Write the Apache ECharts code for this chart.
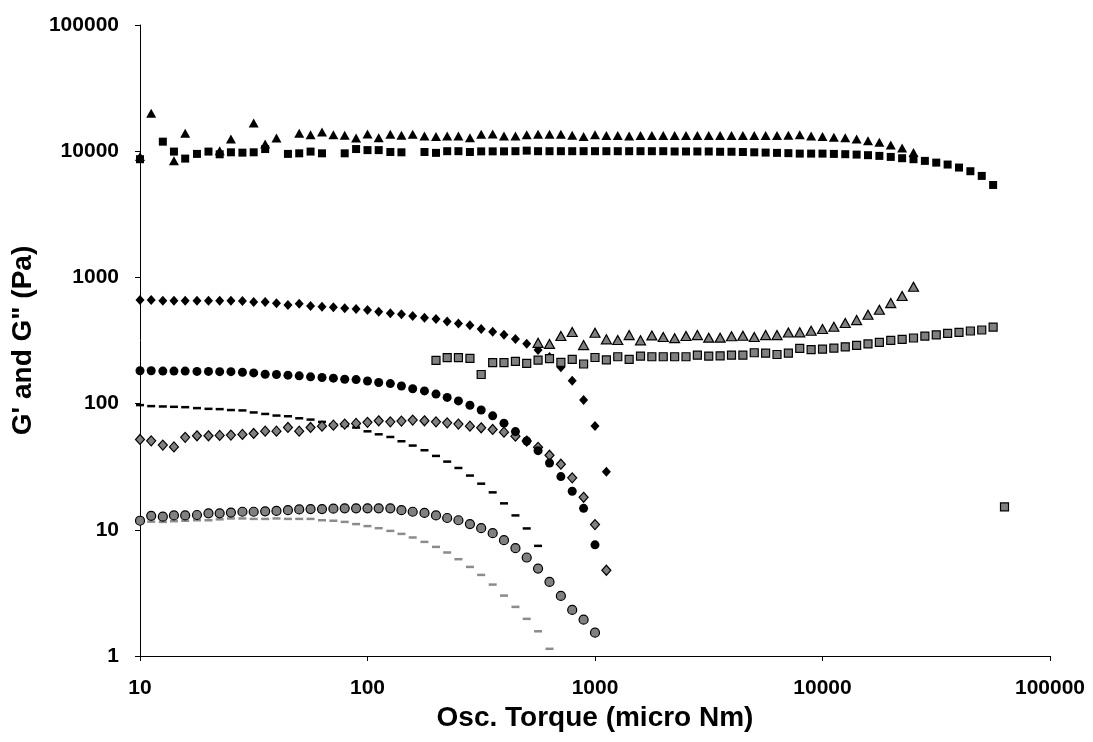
<!DOCTYPE html>
<html>
<head>
<meta charset="utf-8">
<script src="https://cdn.jsdelivr.net/npm/echarts@6/dist/echarts.min.js"></script>
<style>
html,body{margin:0;padding:0;background:#fff;}
#c{width:1093px;height:742px;}
</style>
</head>
<body>
<div id="c"></div>
<script>
// Oscillation torque sweep (micro Nm)
var torque = [10, 11.2, 12.6, 14.1, 15.8, 17.8, 20.0, 22.4, 25.1, 28.2, 31.6, 35.5, 39.8, 44.7, 50.1, 56.2, 63.1, 70.8, 79.4, 89.1,
  100, 112, 126, 141, 158, 178, 200, 224, 251, 282, 316, 355, 398, 447, 501, 562, 631, 708, 794, 891,
  1000, 1122, 1259, 1413, 1585, 1778, 1995, 2239, 2512, 2818, 3162, 3548, 3981, 4467, 5012, 5623, 6310, 7079, 7943, 8913,
  10000, 11220, 12589, 14125, 15849, 17783, 19953, 22387, 25119, 28184, 31623, 35481, 39811, 44668, 50119, 56234, 63096];

var xTicks = [10, 100, 1000, 10000, 100000];
var yTicks = [1, 10, 100, 1000, 10000, 100000];

var blackTriangles = [9060, 20000, null, 8420, 13900, null, null, 10100, 12500, null,
  16700, 11400, 12700, null, 13900, 13500, 14200, 13500, 13400, 12700,
  13700, 12800, 13600, 13400, 13600, 13200, 13100, 13200, 13200, 12800,
  13600, 13700, 13200, 13200, 13500, 13600, 13600, 13600, 13400, 13100,
  13500, 13300, 13300, 13200, 13300, 13300, 13300, 13300, 13300, 13300,
  13300, 13300, 13300, 13300, 13300, 13300, 13300, 13400, 13500, 13200,
  13100, 12900, 12800, 12500, 12100, 11800, 11200, 10600, 9750];

var blackSquares = [8640, null, 11900, 9930, 8740, 9520, 9930, 9450, 9800, 9740,
  9800, 10400, null, 9520, 9620, 9930, 9620, null, 9620, 10400,
  10200, 10200, 9860, 9800, null, 9860, 9700, 10000, 10000, 9860,
  9970, 9970, 9970, 10000, 10100, 10000, 10000, 10000, 10000, 10000,
  10000, 10000, 10000, 10000, 10000, 10000, 10000, 9950, 9950, 9950,
  9950, 9900, 9900, 9850, 9800, 9750, 9700, 9650, 9570, 9570,
  9570, 9520, 9470, 9400, 9300, 9180, 9010, 8800, 8640, 8380,
  8120, 7840, 7420, 6940, 6370, 5400];

var blackDiamonds = [662, 662, 653, 653, 653, 653, 653, 653, 653, 650,
  638, 638, 623, 604, 619, 593, 586, 579, 569, 562,
  551, 535, 519, 510, 494, 479, 468, 448, 432, 417,
  390, 371, 352, 325, 298, 266, 234, 194, 152, 107,
  66.4, 28.8];

var blackCircles = [182, 182, 181, 181, 181, 180, 180, 179, 179, 177,
  175, 171, 170, 168, 166, 163, 161, 159, 156, 155,
  151, 147, 144, 138, 131, 126, 119, 112, 105, 97,
  89, 80, 70, 60, 50.5, 42.4, 33.8, 26.4, 20.2, 14.8,
  7.6];

var blackDashes = [97.3, 95.5, 94.9, 94.3, 93.7, 92.1, 90.9, 90.4, 88.9, 88.3,
  85.1, 82.8, 80.4, 79.4, 76.5, 74.7, 71.6, 68.6, 66.5, 64.6,
  60.3, 57.1, 54.4, 50.3, 46.5, 42.7, 38.5, 34.7, 30.9, 26.9,
  23.2, 19.8, 16.2, 13.0, 10.25, 7.46];

var grayDiamonds = [52.0, 50.7, 46.9, 45.4, 54.0, 55.6, 55.6, 56.0, 56.3, 57.0,
  58.0, 60.5, 60.5, 64.7, 60.5, 64.7, 66.3, 67.5, 68.8, 69.7,
  71.0, 73.1, 71.7, 72.7, 74.0, 73.1, 71.7, 70.4, 68.8, 66.3,
  64.3, 62.4, 59.4, 55.2, 50.5, 45.0, 39.0, 33.1, 25.8, 18.1,
  11.0, 4.78];

var grayCircles = [11.8, 12.9, 12.7, 13.0, 13.0, 13.1, 13.5, 13.5, 13.7, 13.9,
  13.9, 14.0, 14.1, 14.3, 14.5, 14.6, 14.6, 14.7, 14.8, 14.8,
  14.8, 14.8, 14.8, 14.3, 13.9, 13.6, 13.0, 12.4, 11.9, 11.1,
  10.3, 9.4, 8.27, 7.15, 6.03, 4.93, 3.86, 2.99, 2.32, 1.94,
  1.53];

var grayDashes = [11.55, 11.6, 11.55, 11.7, 11.8, 11.9, 11.9, 12.1, 12.3, 12.3,
  12.2, 12.2, 12.3, 12.2, 12.2, 12.2, 11.9, 11.8, 11.55, 11.1,
  10.7, 10.3, 9.8, 9.28, 8.69, 8.02, 7.32, 6.61, 5.85, 5.08,
  4.39, 3.68, 3.01, 2.45, 1.97, 1.57, 1.14];

// gray triangles start at torque index 35
var grayTriangleStart = 35;
var grayTriangles = [303, 297, 343, 369, 291, 364, 323, 319, 349, 317,
  347, 337, 330, 343, 349, 333, 333, 342, 345, 337,
  349, 349, 366, 367, 378, 390, 406, 435, 459, 506,
  554, 626, 712, 844];

// gray squares start at torque index 26 (last point is the outlier at index 76)
var graySquareStart = 26;
var graySquares = [220, 231, 231, 228, 170, 211, 211, 216, 208, 221,
  227, 212, 224, 206, 232, 222, 235, 224, 238, 235,
  235, 235, 235, 242, 238, 239, 242, 242, 253, 251,
  245, 251, 274, 268, 270, 275, 282, 289, 297, 306,
  317, 323, 331, 343, 351, 360, 367, 376, 383, 404,
  15.2];

function pairs(vals, start) {
  var out = [];
  for (var i = 0; i < vals.length; i++) {
    if (vals[i] !== null) out.push([torque[start + i], vals[i]]);
  }
  return out;
}

var GRAY = '#808080';
function sc(name, data, symbol, size, color, border, z) {
  return {
    name: name, type: 'scatter', data: data, symbol: symbol, symbolSize: size, z: z || 2,
    itemStyle: { color: color, borderColor: border ? '#000' : color, borderWidth: border ? 1.2 : 0, opacity: 1 },
    emphasis: { disabled: true }, silent: true
  };
}

var chart = echarts.init(document.getElementById('c'), null, { renderer: 'canvas' });
var font = "'Liberation Sans', Arial, sans-serif";
chart.setOption({
  animation: false,
  backgroundColor: '#fff',
  grid: { left: 140, right: 43, top: 25, bottom: 86 },
  xAxis: {
    type: 'log', logBase: 10, min: xTicks[0], max: xTicks[xTicks.length - 1],
    name: 'Osc. Torque (micro Nm)', nameLocation: 'middle', nameGap: 47,
    nameTextStyle: { fontFamily: font, fontWeight: 'bold', fontSize: 28, color: '#000' },
    axisLine: { show: true, onZero: false, lineStyle: { color: '#000', width: 1 } },
    axisTick: { show: true, inside: false, length: 5, lineStyle: { color: '#000' } },
    minorTick: { show: false },
    splitLine: { show: false },
    axisLabel: { fontFamily: font, fontWeight: 'bold', fontSize: 21, color: '#000', margin: 22,
      formatter: function (v) { return String(Math.round(v)); } }
  },
  yAxis: {
    type: 'log', logBase: 10, min: yTicks[0], max: yTicks[yTicks.length - 1],
    name: 'G\' and G" (Pa)', nameLocation: 'middle', nameGap: 103,
    nameTextStyle: { fontFamily: font, fontWeight: 'bold', fontSize: 28, color: '#000' },
    axisLine: { show: true, onZero: false, lineStyle: { color: '#000', width: 1 } },
    axisTick: { show: true, inside: false, length: 5, lineStyle: { color: '#000' } },
    splitLine: { show: false },
    axisLabel: { fontFamily: font, fontWeight: 'bold', fontSize: 21, color: '#000', margin: 21,
      formatter: function (v) { return String(Math.round(v)); } }
  },
  series: [
    sc('grayDashes', pairs(grayDashes, 0), 'rect', [8, 2.5], '#8c8c8c', false, 2),
    sc('grayCircles', pairs(grayCircles, 0), 'circle', 9, GRAY, true, 3),
    sc('blackDashes', pairs(blackDashes, 0), 'rect', [8, 2.5], '#000', false, 4),
    sc('grayDiamonds', pairs(grayDiamonds, 0), 'diamond', [9, 10], GRAY, true, 5),
    sc('blackCircles', pairs(blackCircles, 0), 'circle', 9, '#000', false, 6),
    sc('blackDiamonds', pairs(blackDiamonds, 0), 'diamond', [9, 10], '#000', false, 7),
    sc('graySquares', pairs(graySquares.slice(0, graySquares.length - 1), graySquareStart), 'rect', 8, GRAY, true, 8),
    sc('graySquareOutlier', [[torque[76], graySquares[graySquares.length - 1]]], 'rect', 8, GRAY, true, 8),
    sc('grayTriangles', pairs(grayTriangles, grayTriangleStart), 'triangle', [10, 9], GRAY, true, 9),
    sc('blackSquares', pairs(blackSquares, 0), 'rect', 8, '#000', false, 10),
    sc('blackTriangles', pairs(blackTriangles, 0), 'triangle', [10, 9], '#000', false, 11)
  ]
});
</script>
</body>
</html>
